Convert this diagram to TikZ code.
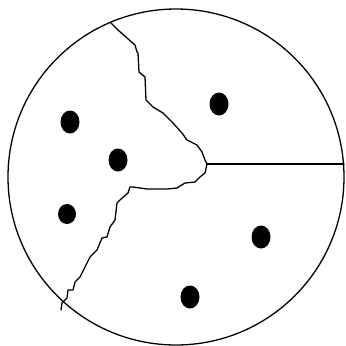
\documentclass[tikz,border=0pt]{standalone}
\usetikzlibrary{shapes.geometric}
\begin{document}
\begin{tikzpicture}[x=1pt,y=-1pt,
  edge/.style={line width=1.3pt,line join=round,line cap=round},
  site/.style={ellipse,fill=black,inner sep=0pt,minimum width=19pt,minimum height=23pt}]
\useasboundingbox (0,0) rectangle (346,346);
\coordinate (c) at (176,177);
\draw[edge] (c) circle (168);
% sites
\node[site] (s1) at (219,104) {};
\node[site] (s2) at (70,122) {};
\node[site] (s3) at (118,160) {};
\node[site,minimum width=18pt,minimum height=20pt] (s4) at (67,214) {};
\node[site] (s5) at (261,237) {};
\node[site] (s6) at (190,297) {};
% boundaries
\coordinate (j) at (207,164);
\coordinate (t) at (111,23);
\coordinate (r) at (344,164);
\coordinate (b) at (61,310);
\draw[edge] (t) -- (118,30) -- (127,38) -- (135,45) -- (137,52) -- (138,53)
  -- (139,72) -- (145,77) -- (146,100) -- (153,107) -- (163,113) -- (173,123)
  -- (182,133) -- (187,140) -- (197,145) -- (202,152) -- (205,160) -- (j);
\draw[edge] (j) -- (r);
\draw[edge] (j) -- (205,173) -- (200,177) -- (195,182) -- (185,183) -- (177,188)
  -- (167,189) -- (147,189) -- (133,187) -- (130,187) -- (128,193) -- (120,200)
  -- (117,203) -- (115,220) -- (110,227) -- (107,237) -- (102,238) -- (97,250)
  -- (90,257) -- (85,267) -- (80,277) -- (75,282) -- (73,290) -- (68,290)
  -- (67,298) -- (62,303) -- (b);
\end{tikzpicture}
\end{document}
